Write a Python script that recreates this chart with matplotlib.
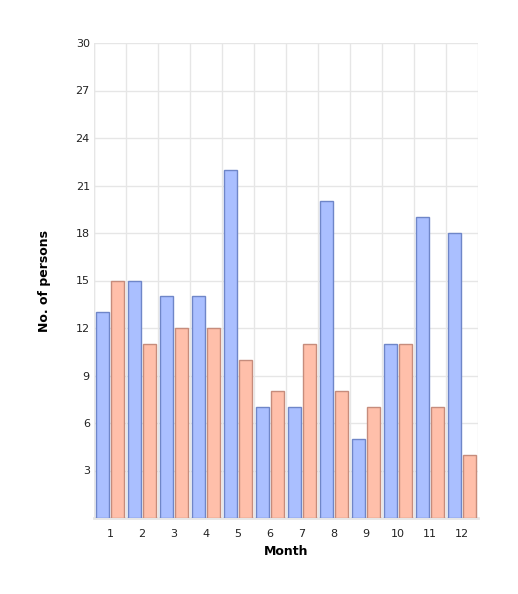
import numpy as np
import matplotlib.pyplot as plt

months = ['1', '2', '3', '4', '5', '6', '7', '8', '9', '10', '11', '12']
series_a = [13, 15, 14, 14, 22, 7, 7, 20, 5, 11, 19, 18]
series_b = [15, 11, 12, 12, 10, 8, 11, 8, 7, 11, 7, 4]
yticks = [3, 6, 9, 12, 15, 18, 21, 24, 27, 30]

fig = plt.figure(figsize=(5.18, 5.94), dpi=100)
ax = fig.add_axes([94 / 518, 76 / 594, 384 / 518, 475 / 594])

x = np.arange(len(months))
w = 0.41
ax.bar(x - 0.235, series_a, width=w, color='#aabfff', edgecolor='#6f86c8', linewidth=1, zorder=3)
ax.bar(x + 0.235, series_b, width=w, color='#ffbfaa', edgecolor='#c68c7c', linewidth=1, zorder=3)

ax.set_xlim(-0.5, len(months) - 0.5)
ax.set_ylim(0, 30)
ax.set_xticks(x)
ax.set_xticklabels(months)
ax.set_yticks(yticks)
ax.set_xticks(np.arange(len(months) + 1) - 0.5, minor=True)
ax.tick_params(axis='both', which='both', length=0, labelsize=8, colors='#222222')
ax.tick_params(axis='x', pad=8)
ax.tick_params(axis='y', pad=3)

ax.grid(True, axis='y', which='major', color='#e6e6e6', linewidth=1, zorder=0)
ax.grid(True, axis='x', which='minor', color='#e6e6e6', linewidth=1, zorder=0)
for s in ['top', 'right', 'left']:
    ax.spines[s].set_visible(False)
ax.spines['bottom'].set_color('#e6e6e6')
ax.spines['bottom'].set_linewidth(2)
ax.axvline(-0.5, color='#e6e6e6', linewidth=1, zorder=0)

ax.set_xlabel('Month', fontsize=9, fontweight='bold', labelpad=4)
ax.set_ylabel('No. of persons', fontsize=9, fontweight='bold', labelpad=18)

plt.savefig('out.png', dpi=100)
